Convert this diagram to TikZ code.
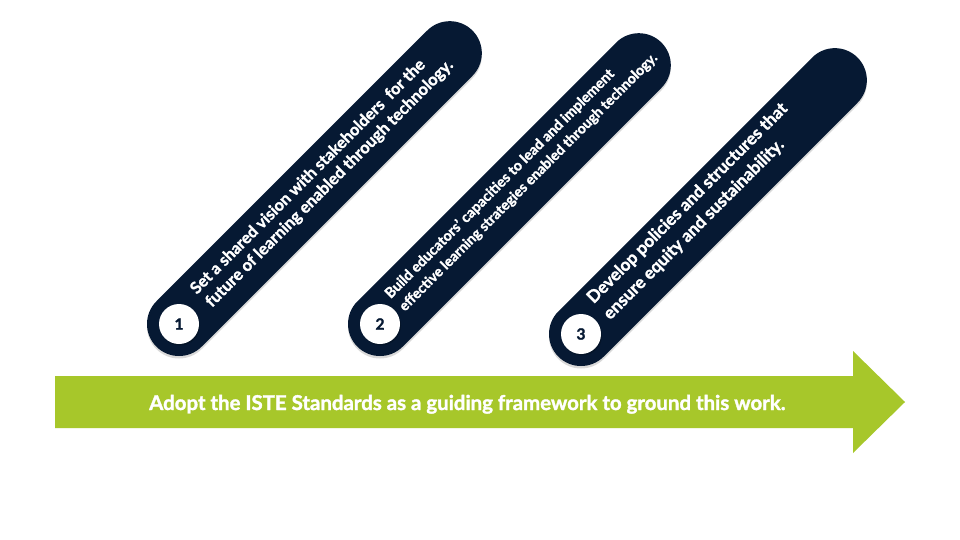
\documentclass[tikz,border=0pt]{standalone}
\usepackage{fontspec}
\setmainfont{Lato}[BoldFeatures={FakeBold=1.6}]
\usetikzlibrary{calc,shadows}
\definecolor{navy}{HTML}{061933}
\definecolor{lime}{HTML}{A7C72A}
\newcommand\fitline[2]{\resizebox{#1pt}{!}{#2}}
\begin{document}
\begin{tikzpicture}[x=1pt,y=-1pt,
  pill/.style={fill=navy, rounded corners=32pt,
    drop shadow={shadow xshift=0pt, shadow yshift=-2.5pt, opacity=0.15, fill=black}},
  numdisc/.style={circle, fill=white, minimum size=40pt, inner sep=0pt, text=navy,
    font=\fontsize{15.5}{17}\selectfont\bfseries,
    drop shadow={shadow xshift=1pt, shadow yshift=-1.5pt, opacity=0.2, fill=black}},
  pilltext/.style={anchor=base west, inner sep=0pt, text=white, font=\bfseries},
  goaltext/.style={anchor=base west, inner sep=0pt, text=white, font=\bfseries}]
\useasboundingbox (0,0) rectangle (960,540);
\fill[white] (0,0) rectangle (960,540);

% pill 1
\begin{scope}[shift={(179,324)}, rotate=45, transform shape]
  \fill[pill] (-32,-32) rectangle (415,32);
  \node[pilltext] (t1a) at (33,-8) {\fitline{324}{Set a shared vision with stakeholders\ \ for the}};
  \node[pilltext] (t1b) at (34.5,12) {\fitline{342}{future of learning enabled through technology.}};
\end{scope}
% pill 2
\begin{scope}[shift={(380,324)}, rotate=45, transform shape]
  \fill[pill] (-32,-32) rectangle (398,32);
  \node[pilltext] (t2a) at (25,-10) {\fitline{317}{Build educators’ capacities to lead and implement}};
  \node[pilltext] (t2b) at (26,9) {\fitline{358}{effective learning strategies enabled through technology.}};
\end{scope}
% pill 3
\begin{scope}[shift={(581,334)}, rotate=45, transform shape]
  \fill[pill] (-32,-32) rectangle (391,32);
  \node[pilltext] (t3a) at (30,-12) {\fitline{275}{Develop policies and structures that}};
  \node[pilltext] (t3b) at (30,11) {\fitline{247}{ensure equity and sustainability.}};
\end{scope}

\node[numdisc] (n1) at (179,324) {1};
\node[numdisc] (n2) at (380,324) {2};
\node[numdisc] (n3) at (581,334) {3};

% arrow
\fill[lime] (55,376) -- (853,376) -- (853,351) -- (905,402) -- (853,453) -- (853,428) -- (55,428) -- cycle;
\node[goaltext] (goal) at (149,410) {\fitline{636}{Adopt the ISTE Standards as a guiding framework to ground this work.}};
\end{tikzpicture}
\end{document}
